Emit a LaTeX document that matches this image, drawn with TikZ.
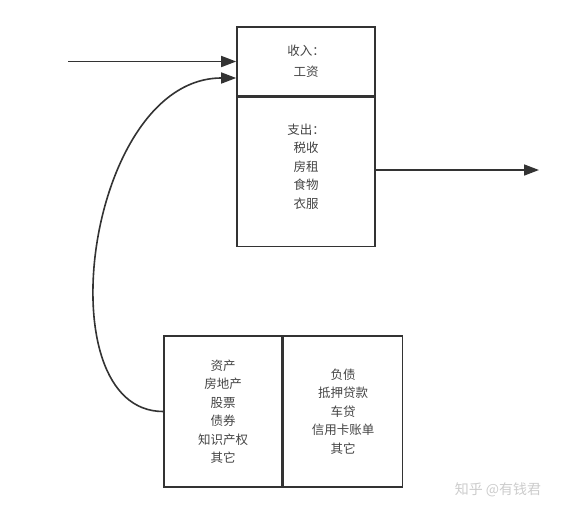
\documentclass[tikz,border=0pt]{standalone}
\usepackage{fontspec}
\newfontfamily\cjk{Noto Sans CJK SC}
\usepackage{tikz}
\usetikzlibrary{positioning}
\usetikzlibrary{arrows.meta}
\definecolor{linegray}{HTML}{333333}
\definecolor{textgray}{HTML}{444444}
\tikzstyle{arrow} = [line width=1.6pt,draw=linegray,-{Triangle[length=15pt,width=11pt]}]
\tikzstyle{box} = [draw=linegray,line width=1.6pt,inner sep=0pt,align=center,text=textgray,font=\cjk\fontsize{12.5}{18.5}\selectfont]

\begin{document}
\begin{tikzpicture}[x=1pt,y=-1pt]
						\useasboundingbox (0,0) rectangle (566,515);
						
						%Nodes
						\node (income) [box,minimum width=138pt,minimum height=69pt] at (306,61.5) {收入：\\[2pt]工资};
						\node (expense) [box,minimum width=138pt,minimum height=149pt,below=0pt of income] {支出：\\税收\\房租\\食物\\衣服\\[-6.5pt]};
						
						\node (assets) [box,minimum width=118pt,minimum height=151pt] at (223,411.5) {资产\\房地产\\股票\\债券\\知识产权\\其它};
						\node (liabilities) [box,minimum width=119pt,minimum height=151pt,right=0pt of assets] {负债\\抵押贷款\\车贷\\信用卡账单\\其它};
						
						\coordinate (start) at (68,61.5);
						\coordinate (stop) at (539,170);
						\coordinate (incomein) at ([yshift=-16.5pt]income.west);
						
						\node (mark) [text=black!20,font=\cjk\fontsize{14}{16}\selectfont] at (498,490) {知乎 @有钱君};
						
						%Lines
						\draw[arrow] (start) -- (income.west);
						\draw[arrow] (assets.west) .. controls +(-120,0) and +(-150,0) .. (incomein);
						\draw[arrow] (expense.east |- stop) -- (stop);
						
					\end{tikzpicture}
\end{document}
